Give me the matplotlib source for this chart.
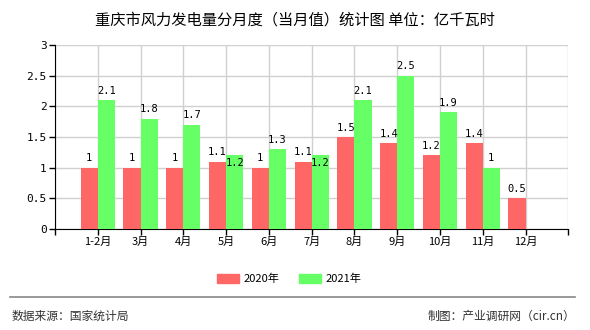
import numpy as np
import matplotlib.pyplot as plt
from matplotlib.patches import Patch

plt.rcParams['font.family'] = ['Noto Sans CJK SC', 'DejaVu Sans']

months = ['1-2月', '3月', '4月', '5月', '6月', '7月', '8月', '9月', '10月', '11月', '12月']
v2020 = [1, 1, 1, 1.1, 1, 1.1, 1.5, 1.4, 1.2, 1.4, 0.5]
v2021 = [2.1, 1.8, 1.7, 1.2, 1.3, 1.2, 2.1, 2.5, 1.9, 1.0, None]
yticks = [0, 0.5, 1, 1.5, 2, 2.5, 3]
ytick_labels = ['0', '0.5', '1', '1.5', '2', '2.5', '3']

red = '#ff6666'
green = '#66ff66'
mono = ['DejaVu Sans Mono', 'Noto Sans CJK SC']

fig = plt.figure(figsize=(5.9, 3.3), dpi=100)
ax = fig.add_axes([0.0932, 0.306, 0.870, 0.558])

x = np.arange(len(months))
w = 0.4
ax.bar(x - w/2, v2020, width=w, color=red, zorder=3)
x21 = [i for i in x if v2021[i] is not None]
y21 = [v2021[i] for i in x21]
ax.bar(np.array(x21) + w/2, y21, width=w, color=green, zorder=3)

for i, v in enumerate(v2020):
    ax.text(i - w/2, v + 0.07, '%g' % v, ha='center', va='bottom',
            fontsize=7.5, family=mono, zorder=4)
for i, v in zip(x21, y21):
    # labels that would collide with the neighbouring red label go lower
    if 0 < v - v2020[i] < 0.15:
        ax.text(i + w/2, v - 0.12, '%g' % v, ha='center', va='center',
                fontsize=7.5, family=mono, zorder=4)
    else:
        ax.text(i + w/2, v + 0.07, '%g' % v, ha='center', va='bottom',
                fontsize=7.5, family=mono, zorder=4)

ax.set_xlim(-1, 11)
ax.set_ylim(0, 3)
ax.set_xticks(np.arange(-1, 12))
ax.set_xticklabels([''] + months + [''], fontsize=8)
ax.set_yticks(yticks)
ax.set_yticklabels(ytick_labels, fontsize=8, family=mono)
ax.tick_params(axis='both', length=4, width=1, color='black', pad=2)

ax.grid(True, color='#d0d0d0', linewidth=1, zorder=0)
ax.set_axisbelow(True)
for s in ['top', 'right']:
    ax.spines[s].set_visible(False)
ax.spines['left'].set_color('black')
ax.spines['bottom'].set_color('black')

fig.text(0.5, 0.94, '重庆市风力发电量分月度（当月值）统计图 单位：亿千瓦时',
         ha='center', va='center', fontsize=11)

handles = [Patch(color=red, label='2020年'), Patch(color=green, label='2021年')]
fig.legend(handles=handles, loc='center', bbox_to_anchor=(0.49, 0.155), ncol=2,
           frameon=False, fontsize=8, handlelength=2.0, handleheight=0.9,
           columnspacing=1.8, handletextpad=0.4)

fig.add_artist(plt.Line2D([0.017, 0.975], [0.10, 0.10], color='#888888', linewidth=1.2))
fig.text(0.02, 0.042, '数据来源：国家统计局', ha='left', va='center', fontsize=8.5, color='#333333')
fig.text(0.975, 0.042, '制图：产业调研网（cir.cn）', ha='right', va='center', fontsize=8.5, color='#333333')

fig.savefig('out.png', dpi=100)
